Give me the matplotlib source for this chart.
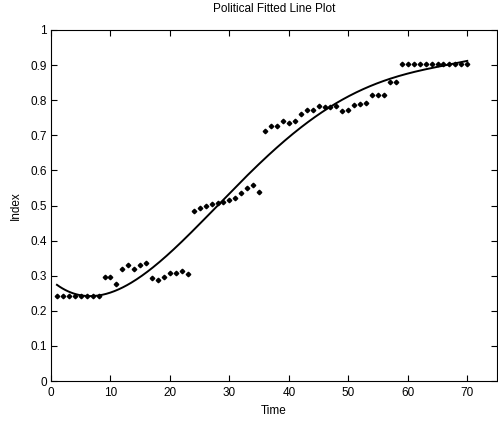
import numpy as np
import matplotlib
matplotlib.use("Agg")
import matplotlib.pyplot as plt

# Political index observed at each time step
time = np.arange(1, 71)
index_values = np.array(
    [0.243] * 8
    + [0.297, 0.297, 0.276, 0.319, 0.330, 0.320, 0.330, 0.337, 0.293, 0.289,
       0.296, 0.308, 0.308, 0.313, 0.306]
    + [0.483, 0.493, 0.499, 0.505, 0.507, 0.510, 0.516, 0.521, 0.537, 0.551,
       0.557, 0.538]
    + [0.712, 0.727, 0.726, 0.740, 0.736, 0.742, 0.762, 0.771, 0.773, 0.783,
       0.782, 0.782, 0.784, 0.770, 0.773, 0.785, 0.788, 0.791]
    + [0.814, 0.814, 0.814, 0.853, 0.853]
    + [0.903] * 12
)
fit_degree = 4
x_ticks = [0, 10, 20, 30, 40, 50, 60, 70]
y_ticks = [0, 0.1, 0.2, 0.3, 0.4, 0.5, 0.6, 0.7, 0.8, 0.9, 1]
y_tick_labels = ["0", "0.1", "0.2", "0.3", "0.4", "0.5", "0.6", "0.7", "0.8", "0.9", "1"]

# Polynomial fitted line
coeffs = np.polyfit(time, index_values, fit_degree)
fit_t = np.linspace(time.min(), time.max(), 300)
fit_v = np.polyval(coeffs, fit_t)

plt.rcParams["font.family"] = ["Liberation Sans", "DejaVu Sans"]

fig = plt.figure(figsize=(4.98, 4.21), dpi=100)
ax = fig.add_axes([51 / 498, 1 - 381 / 421, 446 / 498, 351 / 421])

ax.plot(fit_t, fit_v, color="black", linewidth=1.4, zorder=2)
ax.plot(time, index_values, linestyle="none", marker="D", markersize=2.3,
        markerfacecolor="black", markeredgecolor="black", zorder=3)

ax.set_xlim(0, 75)
ax.set_ylim(0, 1)
ax.set_xticks(x_ticks)
ax.set_yticks(y_ticks)
ax.set_yticklabels(y_tick_labels)
ax.tick_params(direction="in", length=4, width=0.8, labelsize=8.5,
               top=True, right=True)
ax.tick_params(axis="x", pad=4)
ax.tick_params(axis="y", pad=3)
for s in ax.spines.values():
    s.set_linewidth(0.8)

ax.set_xlabel("Time", fontsize=8.5, labelpad=5)
ax.set_ylabel("Index", fontsize=8.5, labelpad=6)
ax.set_title("Political Fitted Line Plot", fontsize=8.5, pad=13)

fig.savefig("out.png", dpi=100, facecolor="white")
